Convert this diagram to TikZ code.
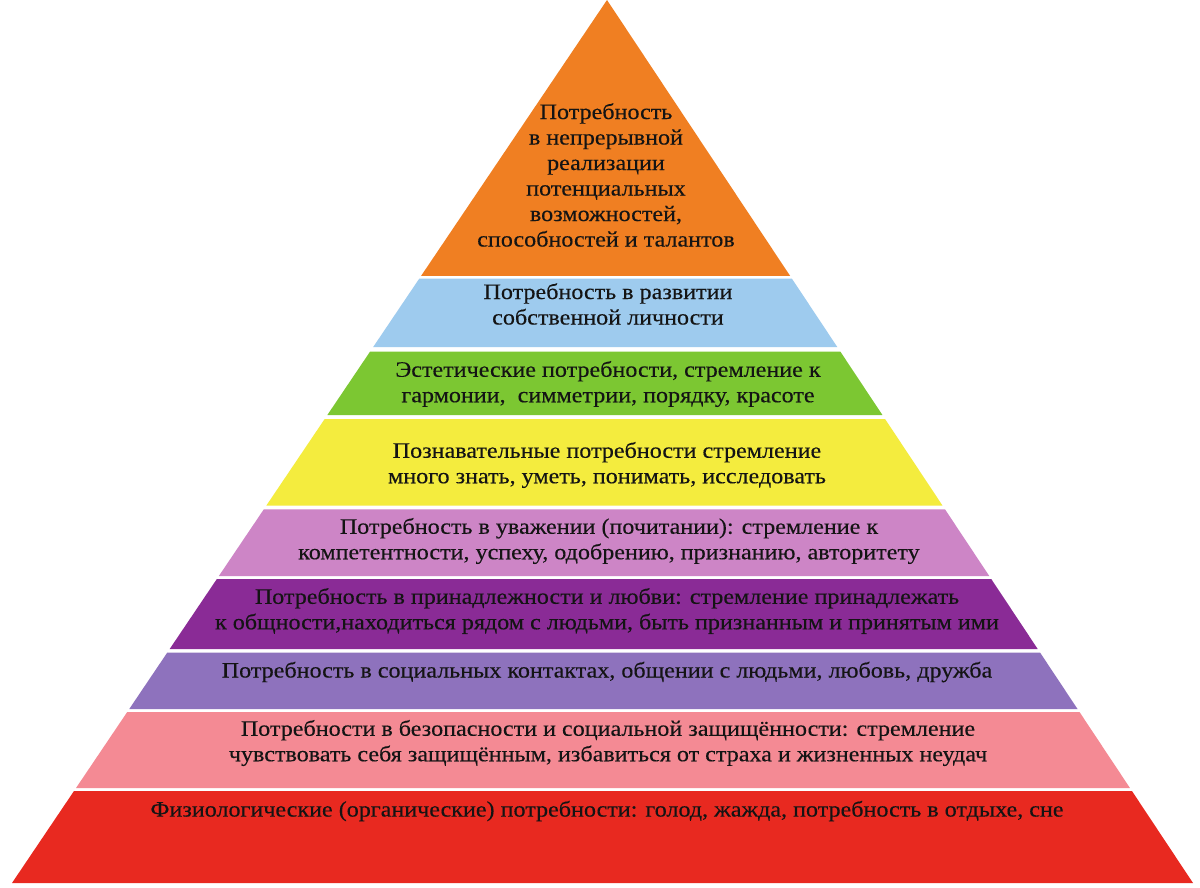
\documentclass[tikz,border=0pt]{standalone}
\usepackage{fontspec}
\setmainfont{Liberation Serif}
\newfontfamily\ruserif[FakeStretch=1.095,FakeBold=0.25]{Liberation Serif}
\usetikzlibrary{calc}
\definecolor{cOrange}{RGB}{240,127,34}
\definecolor{cBlue}{RGB}{158,203,238}
\definecolor{cGreen}{RGB}{124,199,50}
\definecolor{cYellow}{RGB}{244,236,62}
\definecolor{cOrchid}{RGB}{205,133,198}
\definecolor{cPurple}{RGB}{138,43,150}
\definecolor{cViolet}{RGB}{142,114,189}
\definecolor{cPink}{RGB}{244,138,148}
\definecolor{cRed}{RGB}{232,41,32}
\newcommand\pyrlayer[3]{%
  \fill[#3] ($(A)!{#1/883}!(BL)$) -- ($(A)!{#1/883}!(BR)$) -- ($(A)!{#2/883}!(BR)$) -- ($(A)!{#2/883}!(BL)$) -- cycle;}
\tikzset{lbl/.style={align=center, inner sep=0pt, text=black!92, font=\ruserif\fontsize{22}{25.5}\selectfont}}
\begin{document}
\begin{tikzpicture}[x=1pt,y=-1pt]
\useasboundingbox[fill=white] (0,0) rectangle (1200,887);
\coordinate (A) at (607,0);
\coordinate (BL) at (12,883);
\coordinate (BR) at (1193,883);
\pyrlayer{0}{276}{cOrange}
\pyrlayer{278.5}{347}{cBlue}
\pyrlayer{351.5}{415}{cGreen}
\pyrlayer{419}{505.5}{cYellow}
\pyrlayer{509.5}{576}{cOrchid}
\pyrlayer{579}{649}{cPurple}
\pyrlayer{652.5}{709}{cViolet}
\pyrlayer{712}{788}{cPink}
\pyrlayer{791}{883}{cRed}
\node[lbl] (t1) at (606,175) {Потребность\\в непрерывной\\реализации\\потенциальных\\возможностей,\\способностей и талантов};
\node[lbl] (t2) at (608,304) {Потребность в развитии\\собственной личности};
\node[lbl] (t3) at (608,384) {Эстетические потребности, стремление к\\гармонии,\ \ симметрии, порядку, красоте};
\node[lbl] (t4) at (607,465) {Познавательные потребности стремление\\много знать, уметь, понимать, исследовать};
\node[lbl] (t5) at (609,541) {Потребность в уважении (почитании): стремление к\\компетентности, успеху, одобрению, признанию, авторитету};
\node[lbl] (t6) at (607,611) {Потребность в принадлежности и любви: стремление принадлежать\\к общности,находиться рядом с людьми, быть признанным и принятым ими};
\node[lbl] (t7) at (607,672) {Потребность в социальных контактах, общении с людьми, любовь, дружба};
\node[lbl] (t8) at (608,743) {Потребности в безопасности и социальной защищённости: стремление\\чувствовать себя защищённым, избавиться от страха и жизненных неудач};
\node[lbl] (t9) at (607,811) {Физиологические (органические) потребности: голод, жажда, потребность в отдыхе, сне};
\end{tikzpicture}
\end{document}
